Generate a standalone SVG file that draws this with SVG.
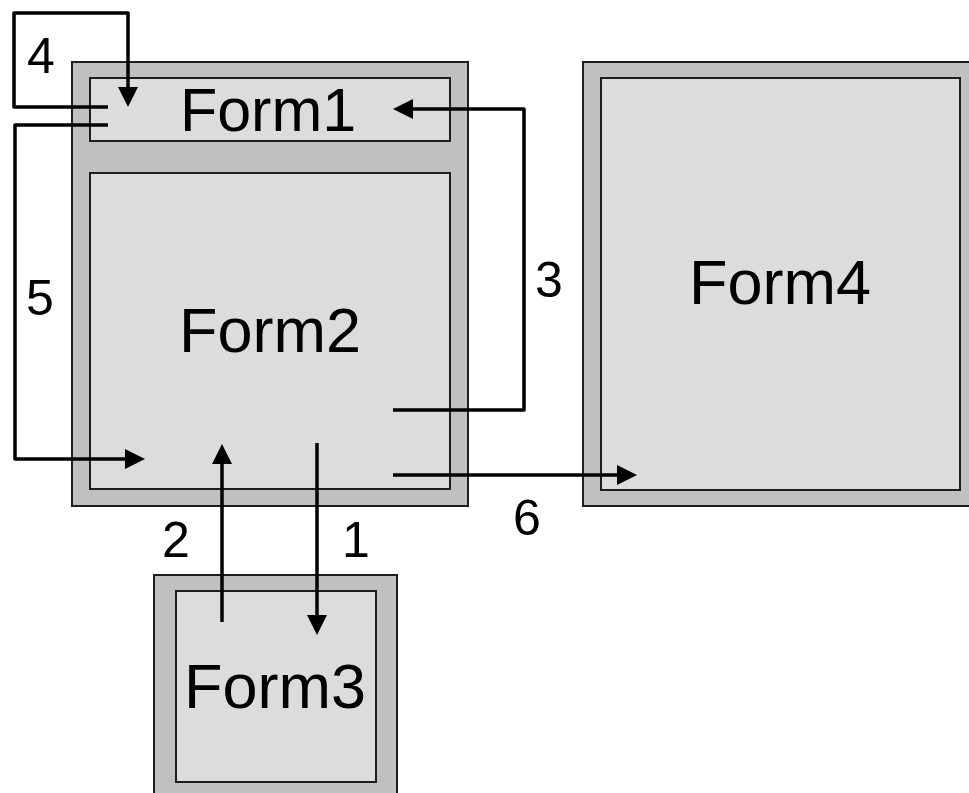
<svg xmlns="http://www.w3.org/2000/svg" width="969" height="793" viewBox="0 0 969 793">
  <style>
    .frame { fill: #c0c0c0; stroke: #1e1e1e; stroke-width: 2; }
    .pane { fill: #dcdcdc; stroke: #1e1e1e; stroke-width: 2; }
    .title { font-family: "Liberation Sans", Arial, sans-serif; font-size: 63px; fill: #000; text-anchor: middle; }
    .link { fill: none; stroke: #000; stroke-width: 3.5; stroke-linejoin: round; }
    .num { font-family: "Liberation Sans", Arial, sans-serif; font-size: 50px; fill: #000; text-anchor: middle; }
  </style>
  <defs>
    <marker id="head" markerUnits="userSpaceOnUse" markerWidth="20" markerHeight="20" refX="12" refY="10" orient="auto" overflow="visible">
      <path d="M0,0 L20,10 L0,20 Z" fill="#000"/>
    </marker>
  </defs>
  <rect width="969" height="793" fill="#fff"/>

  <!-- Container window holding Form1 and Form2 -->
  <g id="container">
    <rect class="frame" x="72" y="62" width="396" height="444"/>
  </g>
  <g id="form1">
    <rect class="pane" x="90" y="78" width="360" height="63"/>
    <text class="title" x="268" y="131" style="font-size:61px">Form1</text>
  </g>
  <g id="form2">
    <rect class="pane" x="90" y="173" width="360" height="316"/>
    <text class="title" x="270" y="352">Form2</text>
  </g>
  <g id="form3">
    <rect class="frame" x="154" y="575" width="243" height="230"/>
    <rect class="pane" x="176" y="591" width="200" height="191"/>
    <text class="title" x="275" y="708">Form3</text>
  </g>
  <g id="form4">
    <rect class="frame" x="583" y="62" width="400" height="444"/>
    <rect class="pane" x="601" y="78" width="359" height="412"/>
    <text class="title" x="780" y="304">Form4</text>
  </g>

  <!-- Numbered transitions between the forms -->
  <g id="connectors">
    <path class="link" d="M108,107 H14 V13 H128 V99" marker-end="url(#head)"/>
    <path class="link" d="M108,125 H15 V459 H137" marker-end="url(#head)"/>
    <path class="link" d="M393,410 H524 V109 H401" marker-end="url(#head)"/>
    <path class="link" d="M393,475 H629" marker-end="url(#head)"/>
    <path class="link" d="M222,622 V452" marker-end="url(#head)"/>
    <path class="link" d="M317,443 V627" marker-end="url(#head)"/>
    <text class="num" x="41" y="73">4</text>
    <text class="num" x="40" y="315">5</text>
    <text class="num" x="549" y="297">3</text>
    <text class="num" x="527" y="535">6</text>
    <text class="num" x="176" y="557">2</text>
    <text class="num" x="356" y="557">1</text>
  </g>
</svg>
